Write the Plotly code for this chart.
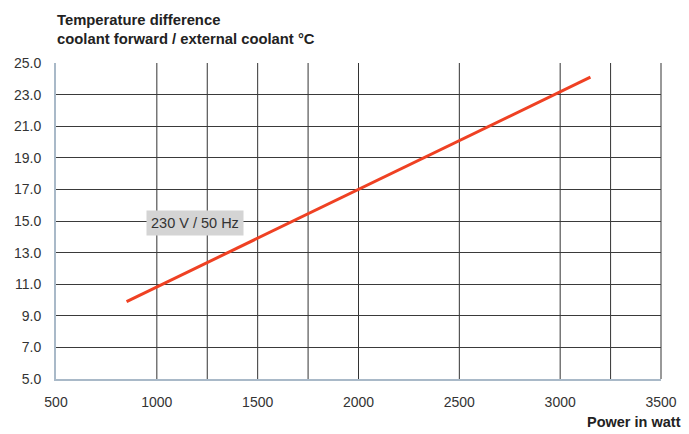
import plotly.graph_objects as go

# Data
power_w = [850, 3150]
temp_diff = [9.9, 24.1]
y_ticks = [5, 7, 9, 11, 13, 15, 17, 19, 21, 23, 25]
x_ticks = [500, 1000, 1500, 2000, 2500, 3000, 3500]
x_grid = [1000, 1250, 1500, 1750, 2000, 2500, 3000, 3250]
series_label = "230 V / 50 Hz"
label_pos = (1190, 14.9)

FONT = "Liberation Sans, Arial, sans-serif"

fig = go.Figure()
fig.add_trace(go.Scatter(
    x=power_w, y=temp_diff, mode="lines",
    line=dict(color="#ef4123", width=3), showlegend=False, hoverinfo="skip"))

shapes = []
for gx in x_grid:
    shapes.append(dict(type="line", xref="x", yref="paper", x0=gx, x1=gx, y0=0, y1=1,
                       line=dict(color="#333333", width=1), layer="below"))
# right border
shapes.append(dict(type="line", xref="paper", yref="paper", x0=1, x1=1, y0=0, y1=1,
                   line=dict(color="#999999", width=2), layer="below"))

fig.update_layout(
    width=689, height=434,
    margin=dict(l=56, r=21, t=63, b=55),
    paper_bgcolor="white", plot_bgcolor="white",
    font=dict(family=FONT, size=14, color="#333333"),
    shapes=shapes,
    xaxis=dict(range=[500, 3500], tickvals=x_ticks, showgrid=False, zeroline=False,
               showline=True, linecolor="#a9b9c8", linewidth=2,
               ticks="outside", ticklen=9, tickcolor="rgba(0,0,0,0)",
               tickfont=dict(size=14, color="#333333")),
    yaxis=dict(range=[5, 25], tickvals=y_ticks, tickformat=".1f", showgrid=True,
               gridcolor="#3a3a3a", gridwidth=1, zeroline=False,
               showline=True, linecolor="#a9b9c8", linewidth=2,
               ticks="outside", ticklen=10, tickcolor="rgba(0,0,0,0)",
               tickfont=dict(size=14, color="#333333")),
    annotations=[
        dict(text="<b>Temperature difference<br>coolant forward / external coolant °C</b>",
             xref="paper", yref="paper", x=0, y=1, xshift=-1, yshift=14,
             xanchor="left", yanchor="bottom", align="left", showarrow=False,
             font=dict(size=14.8, color="#222222", family=FONT)),
        dict(text="<b>Power in watt</b>", xref="paper", yref="paper", x=1, y=0,
             xshift=22, yshift=-53, xanchor="right", yanchor="bottom",
             showarrow=False, font=dict(size=14.5, color="#222222", family=FONT)),
        dict(text=series_label, x=label_pos[0], y=label_pos[1], xref="x", yref="y",
             showarrow=False, bgcolor="#d4d4d4", borderpad=4,
             font=dict(size=14.5, color="#333333", family=FONT)),
    ],
)

fig.write_html("out.html", config={"displayModeBar": False},
               post_script="document.body.style.margin='0';")
